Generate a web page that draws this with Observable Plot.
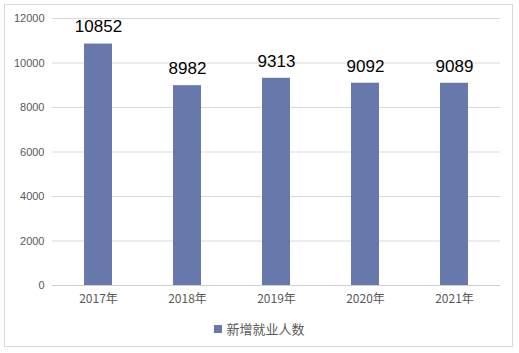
<!DOCTYPE html>
<html><head><meta charset="utf-8">
<script src="https://cdn.jsdelivr.net/npm/d3@7"></script>
<script src="https://cdn.jsdelivr.net/npm/@observablehq/plot@0.6"></script>
<style>
body{margin:0;background:#fff;font-family:"Liberation Sans","Noto Sans CJK SC",sans-serif;}
#wrap{position:relative;width:519px;height:353px;}
#frame{position:absolute;left:4px;top:4px;width:507px;height:341px;border:1px solid #d9d9d9;}
#chart{position:absolute;left:0;top:0;}
#legend{position:absolute;left:0;top:319px;width:519px;text-align:center;font-size:13px;color:#595959;font-family:"Noto Sans CJK SC",sans-serif;}
#legend span.sw{display:inline-block;width:8px;height:8px;background:#6779aa;margin-right:4px;vertical-align:1px;}
</style></head>
<body><div id="wrap"><div id="frame"></div><div id="chart"></div><div id="legend"><span class="sw"></span>新增就业人数</div></div>
<script>
const years = ["2017年","2018年","2019年","2020年","2021年"];
const values = [10852, 8982, 9313, 9092, 9089];
const yTicks = [0,2000,4000,6000,8000,10000,12000];
const seriesName = "新增就业人数";
const data = years.map((y,i)=>({year:y, value:values[i]}));
const chart = Plot.plot({
  width:519, height:310,
  marginLeft:52, marginRight:19, marginTop:18, marginBottom:25,
  style:{fontFamily:"Liberation Sans, Noto Sans CJK SC, sans-serif", background:"transparent"},
  x:{domain:years, paddingInner:0.69, paddingOuter:0.345, label:null},
  y:{domain:[0,12000], label:null},
  marks:[
    Plot.gridY(yTicks, {stroke:"#d9d9d9", strokeOpacity:1}),
    Plot.barY(data, {x:"year", y:"value", fill:"#6779aa"}),
    Plot.ruleY([0], {stroke:"#d0d0d0"}),
    Plot.axisY(yTicks, {tickSize:0, tickPadding:8, fill:"#595959", fontSize:11, tickFormat:d=>String(d)}),
    Plot.axisX({tickSize:0, tickPadding:9, fill:"#595959", fontSize:12, fontFamily:"Noto Sans CJK SC, sans-serif"}),
    Plot.text(data, {x:"year", y:"value", text:d=>String(d.value), dy:-17, fill:"#000", fontSize:17})
  ]
});
document.getElementById("chart").appendChild(chart);
</script></body></html>
